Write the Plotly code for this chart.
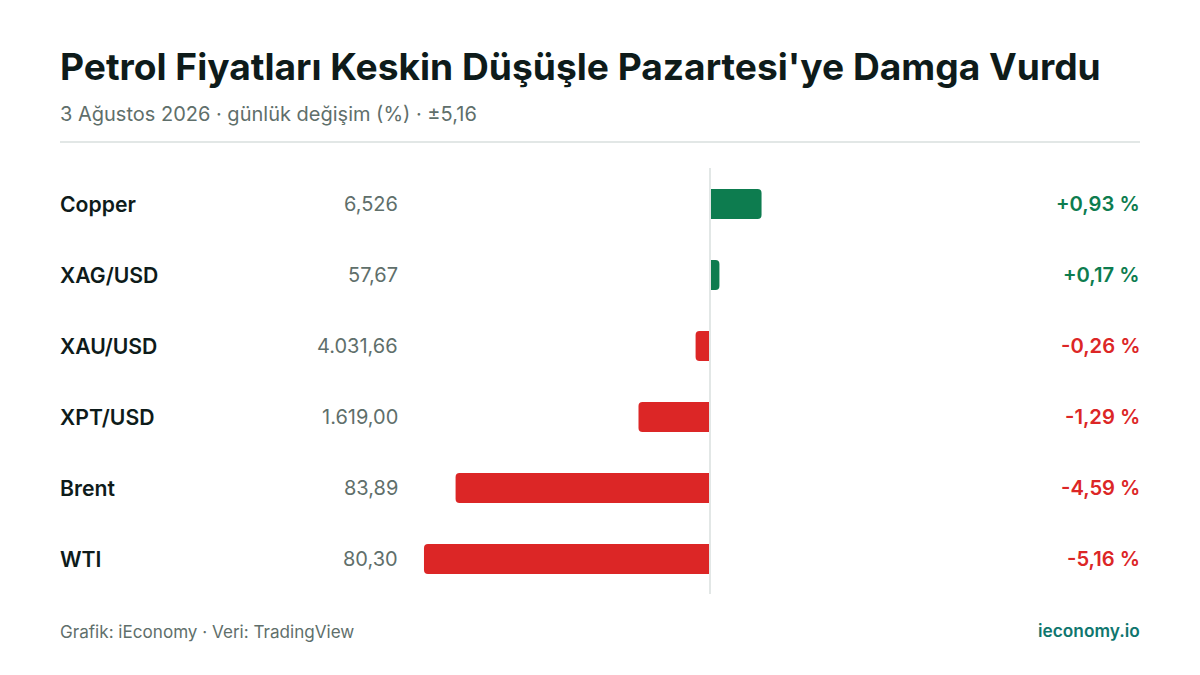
import plotly.graph_objects as go

names = ["Copper", "XAG/USD", "XAU/USD", "XPT/USD", "Brent", "WTI"]
prices = ["6,526", "57,67", "4.031,66", "1.619,00", "83,89", "80,30"]
changes = [0.93, 0.17, -0.26, -1.29, -4.59, -5.16]

W, H = 1200, 675
GREEN, RED = "#0d7c4f", "#dc2626"
INK, MUTED, RULE = "#0e1b1a", "#5f6f6b", "#e2e7e6"
FONT = "Inter"
colors = [GREEN if c > 0 else RED for c in changes]
pct = [f"{c:+.2f} %".replace(".", ",") for c in changes]

fig = go.Figure(go.Bar(
    x=changes, y=names, orientation="h", marker=dict(color=colors, line_width=0, cornerradius=4),
    hoverinfo="skip",
))

def px(x): return x / W
def py(y): return 1 - y / H

anns = []
def text(t, x, y, size, color, weight=400, anchor="left", yref="paper", yshift=0):
    anns.append(dict(text=t, x=x, y=y, xref="paper", yref=yref, xanchor=anchor, yanchor="middle",
                     showarrow=False, align=anchor, borderpad=0, borderwidth=0, yshift=yshift,
                     font=dict(family=FONT, size=size, color=color, weight=weight)))

text("Petrol Fiyatları Keskin Düşüşle Pazartesi'ye Damga Vurdu", px(59.5), py(66.3), 37.15, INK, 700)
text("3 Ağustos 2026 · günlük değişim (%) · ±5,16", px(60), py(114), 20, MUTED)
text("Grafik: iEconomy · Veri: TradingView", px(60), py(631), 17.1, MUTED)
text("ieconomy.io", px(1140), py(630.4), 17.3, "#0f766e", 600, "right")
for n, p, s, col in zip(names, prices, pct, colors):
    text(n, px(60), n, 21.2, INK, 600, "left", "y")
    text(p, px(398), n, 20, MUTED, 400, "right", "y")
    text(s, px(1140), n, 20.2, col, 600, "right", "y", yshift=1)

fig.update_layout(
    width=W, height=H, margin=dict(l=0, r=0, t=0, b=0),
    paper_bgcolor="white", plot_bgcolor="white", showlegend=False, bargap=1 - 30 / 71,
    xaxis=dict(range=[-710 / 55.43, 490 / 55.43], visible=False, domain=[0, 1], fixedrange=True),
    yaxis=dict(autorange="reversed", visible=False, domain=[py(594.5), py(168.5)], fixedrange=True),
    annotations=anns,
    shapes=[
        dict(type="line", xref="paper", yref="paper", x0=px(60), x1=px(1140), y0=py(142), y1=py(142),
             line=dict(color=RULE, width=2)),
        dict(type="line", xref="x", yref="paper", x0=0, x1=0, y0=py(168), y1=py(594),
             line=dict(color=RULE, width=2), layer="above"),
    ],
)
fig.write_html("out.html", config={"displayModeBar": False},
               post_script="document.body.style.margin='0';document.body.style.overflow='hidden';")
